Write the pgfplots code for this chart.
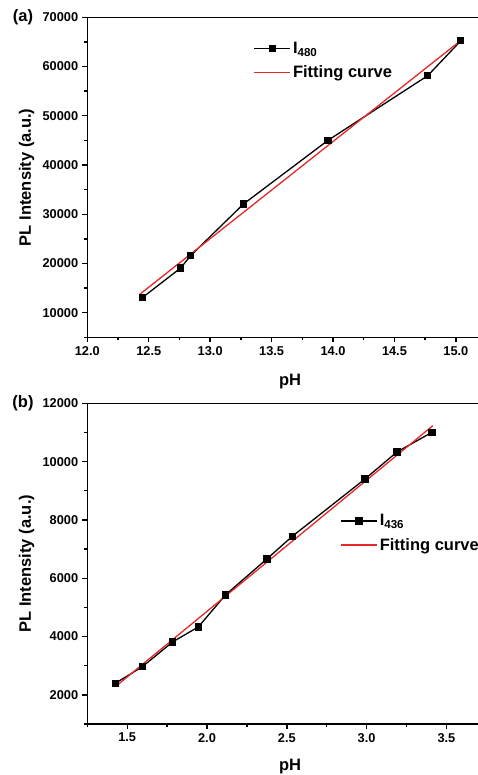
\documentclass[border=0pt]{standalone}
\usepackage{fontspec}
\setmainfont{Liberation Sans}
\usepackage{pgfplots}
\pgfplotsset{compat=1.18}
\definecolor{fitred}{RGB}{230,40,40}
\pgfplotsset{
  myax/.style={
    scale only axis,
    axis x line*=bottom, axis y line*=left,
    line width=1.6pt,
    tick align=outside,
    major tick length=5pt, minor tick length=3pt,
    every tick/.style={line width=1.4pt, black},
    tick label style={font=\bfseries\fontsize{12.8}{14}\selectfont},
    label style={font=\bfseries\fontsize{16.5}{18}\selectfont},
    /pgf/number format/assume math mode=true,
    /pgf/number format/1000 sep={},
    scaled ticks=false,
    legend style={draw=none, fill=none, font=\bfseries\fontsize{16.5}{18}\selectfont,
      legend cell align=left, row sep=7pt, inner sep=0pt},
    legend image code/.code={\draw[mark repeat=2,mark phase=2,#1] plot coordinates {(0pt,0pt) (18pt,0pt) (36pt,0pt)};},
  },
  dat/.style={black, line width=1.3pt, mark=square*, mark size=3pt, mark options={solid, fill=black}},
  fit/.style={fitred, line width=1.3pt, no marks},
}
\begin{document}
\begin{tikzpicture}
\path[use as bounding box] (0,0) rectangle (478pt,-775pt);
% (a)
\begin{axis}[myax,
  at={(87.3pt,-337.3pt)}, anchor=south west,
  width=390.7pt, height=320pt,
  xmin=12, xmax=15.18, ymin=5000, ymax=70000,
  xtick={12,12.5,13,13.5,14,14.5,15},
  minor xtick={12.25,12.75,13.25,13.75,14.25,14.75},
  ytick={10000,20000,30000,40000,50000,60000,70000},
  minor ytick={5000,15000,25000,35000,45000,55000,65000},
  xticklabel style={/pgf/number format/.cd, fixed, fixed zerofill, precision=1},
  xlabel={pH}, ylabel={PL Intensity (a.u.)},
  xlabel style={at={(axis description cs:0.519,-0.1397)}, anchor=center},
  ylabel style={at={(axis description cs:-0.1551,0.5)}, anchor=center},
  legend style={at={(axis description cs:0.424,0.931)}, anchor=north west},
]
\draw[line width=1.6pt] (rel axis cs:0,1) -- (rel axis cs:1,1);
\addplot[dat] coordinates {(12.45,13100) (12.76,19070) (12.84,21560) (13.27,32050) (13.96,45030) (14.77,58130) (15.04,65230)};
\addlegendentry{I\textsubscript{480}}
\addplot[fit] coordinates {(12.423,13650) (15.034,65170)};
\addlegendentry{Fitting curve}
\end{axis}
% (b)
\begin{axis}[myax,
  at={(87.3pt,-724pt)}, anchor=south west,
  width=390.7pt, height=320.7pt,
  xmin=1.25, xmax=3.698, ymin=1000, ymax=12000,
  xtick={1.5,2,2.5,3,3.5},
  minor xtick={1.25,1.75,2.25,2.75,3.25},
  ytick={2000,4000,6000,8000,10000,12000},
  minor ytick={1000,3000,5000,7000,9000,11000},
  xticklabel style={/pgf/number format/.cd, fixed, fixed zerofill, precision=1},
  xlabel={pH}, ylabel={PL Intensity (a.u.)},
  xlabel style={at={(axis description cs:0.519,-0.1331)}, anchor=center},
  ylabel style={at={(axis description cs:-0.1551,0.5)}, anchor=center},
  legend style={at={(axis description cs:0.646,0.662)}, anchor=north west},
]
\draw[line width=1.6pt] (rel axis cs:0,1) -- (rel axis cs:1,1);
\addplot[dat] coordinates {(1.427,2401) (1.596,2970) (1.785,3817) (1.946,4331) (2.116,5428) (2.375,6662) (2.535,7441) (2.99,9405) (3.19,10330) (3.41,11006)};
\addlegendentry{I\textsubscript{436}}
\addplot[fit] coordinates {(1.427,2285) (3.415,11232)};
\addlegendentry{Fitting curve}
\end{axis}
\node[font=\bfseries\fontsize{16.5}{18}\selectfont] at (23pt,-17.3pt) {(a)};
\node[font=\bfseries\fontsize{16.5}{18}\selectfont] at (23pt,-403.3pt) {(b)};
\end{tikzpicture}
\end{document}
